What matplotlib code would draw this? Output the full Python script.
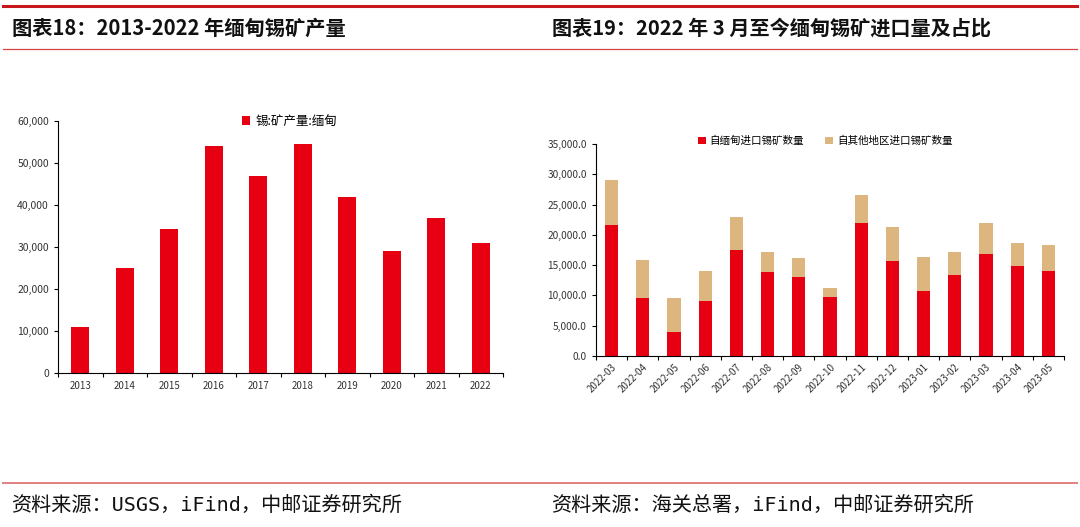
import matplotlib
matplotlib.use("Agg")
import matplotlib.pyplot as plt
from matplotlib.ticker import FuncFormatter, FixedLocator
from matplotlib.lines import Line2D
import numpy as np

plt.rcParams['font.family'] = ['Noto Sans CJK SC', 'DejaVu Sans']

# ---- data ----
years = ['2013', '2014', '2015', '2016', '2017', '2018', '2019', '2020', '2021', '2022']
myanmar_output = [11000, 25000, 34200, 54000, 47000, 54500, 42000, 29000, 37000, 31000]

months = ['2022-03', '2022-04', '2022-05', '2022-06', '2022-07', '2022-08', '2022-09', '2022-10',
          '2022-11', '2022-12', '2023-01', '2023-02', '2023-03', '2023-04', '2023-05']
from_myanmar = [21600, 9500, 4000, 9000, 17500, 13900, 13000, 9800, 22000, 15700, 10800, 13300, 16800, 14900, 14000]
from_other = [7400, 6300, 5500, 5100, 5400, 3300, 3100, 1500, 4500, 5600, 5600, 3900, 5100, 3700, 4300]

title_left = '图表18：2013-2022 年缅甸锡矿产量'
title_right = '图表19：2022 年 3 月至今缅甸锡矿进口量及占比'
source_left = '资料来源：USGS，iFind，中邮证券研究所'
source_right = '资料来源：海关总署，iFind，中邮证券研究所'
legend_left = '锡:矿产量:缅甸'
legend_right = ['自缅甸进口锡矿数量', '自其他地区进口锡矿数量']

RED = '#E60012'
TAN = '#DDB67F'
LINE_RED = '#C8161D'

W, H = 1080, 527
fig = plt.figure(figsize=(W / 100, H / 100), dpi=100)
fig.patch.set_facecolor('white')

def fx(px):
    return px / W

def fy(py):
    return 1 - py / H

# decorative lines
fig.add_artist(Line2D([fx(3), fx(1077)], [fy(6), fy(6)], color=LINE_RED, lw=2.2))
fig.add_artist(Line2D([fx(3), fx(1077)], [fy(49), fy(49)], color='#D64545', lw=0.9))
fig.add_artist(Line2D([fx(3), fx(1077)], [fy(483), fy(483)], color='#E08080', lw=1.4))

fig.text(fx(12), fy(28), title_left, fontsize=14.6, fontweight='bold', va='center', ha='left', color='#111111')
fig.text(fx(552), fy(28), title_right, fontsize=14.5, fontweight='bold', va='center', ha='left', color='#111111')
src_family = ['DejaVu Sans Mono', 'Noto Sans CJK SC']
fig.text(fx(11), fy(505), source_left, fontsize=14.5, family=src_family, va='center', ha='left', color='#111111')
fig.text(fx(551), fy(505), source_right, fontsize=14.5, family=src_family, va='center', ha='left', color='#111111')

def style_axes(ax, n):
    for s in ['top', 'right']:
        ax.spines[s].set_visible(False)
    for s in ['left', 'bottom']:
        ax.spines[s].set_color('black')
        ax.spines[s].set_linewidth(0.8)
    ax.set_xlim(-0.5, n - 0.5)
    ax.set_xticks(np.arange(n))
    ax.tick_params(axis='x', which='major', length=0, labelsize=7, labelcolor='#333333', pad=6)
    ax.xaxis.set_minor_locator(FixedLocator(np.arange(n + 1) - 0.5))
    ax.tick_params(axis='x', which='minor', length=3, width=0.8, direction='out')
    ax.tick_params(axis='y', length=3, width=0.8, direction='out', labelsize=7.5, labelcolor='#333333')

# ---- left chart ----
axL = fig.add_axes([fx(58), fy(373), fx(503) - fx(58), fy(121) - fy(373)])
xL = np.arange(len(years))
axL.bar(xL, myanmar_output, width=0.41, color=RED, label=legend_left)
style_axes(axL, len(years))
axL.set_xticklabels(years)
axL.set_ylim(0, 60000)
axL.set_yticks(np.arange(0, 60001, 10000))
axL.yaxis.set_major_formatter(FuncFormatter(lambda v, p: f'{int(v):,}'))
axL.legend(loc='upper center', bbox_to_anchor=(0.52, 1.045), frameon=False, fontsize=9,
           handlelength=0.7, handleheight=0.7, handletextpad=0.4, borderaxespad=0)

# ---- right chart ----
axR = fig.add_axes([fx(596), fy(356), fx(1064) - fx(596), fy(144) - fy(356)])
xR = np.arange(len(months))
axR.bar(xR, from_myanmar, width=0.42, color=RED, label=legend_right[0])
axR.bar(xR, from_other, width=0.42, bottom=from_myanmar, color=TAN, label=legend_right[1])
style_axes(axR, len(months))
axR.set_xticklabels(months, rotation=45, ha='right', rotation_mode='anchor')
axR.tick_params(axis='x', which='major', pad=4, labelsize=7)
axR.set_ylim(0, 35000)
axR.set_yticks(np.arange(0, 35001, 5000))
axR.yaxis.set_major_formatter(FuncFormatter(lambda v, p: f'{v:,.1f}'))
axR.tick_params(axis='y', labelsize=7.3)
axR.legend(loc='upper center', bbox_to_anchor=(0.49, 1.06), frameon=False, fontsize=7.6, ncol=2,
           handlelength=0.7, handleheight=0.7, handletextpad=0.4, columnspacing=2.0, borderaxespad=0)

fig.savefig('out.png', dpi=100, facecolor='white')
